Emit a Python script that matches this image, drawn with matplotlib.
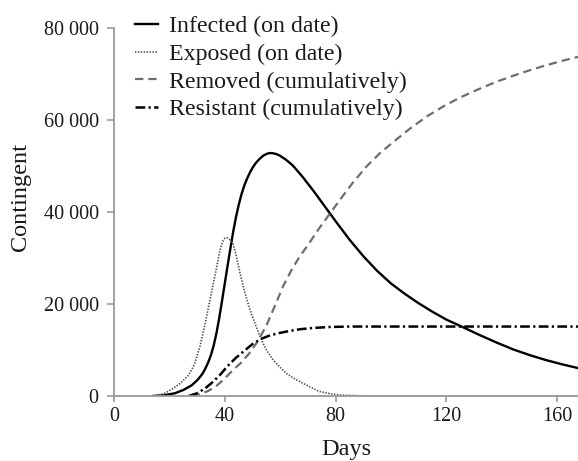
import matplotlib
matplotlib.use("Agg")
import matplotlib.pyplot as plt
from matplotlib.ticker import FuncFormatter

plt.rcParams['font.family'] = ['Liberation Serif', 'DejaVu Serif']
plt.rcParams['lines.scale_dashes'] = False

# ---- data ----
infected_days = [14, 18, 22, 25, 28, 30, 31, 32, 33, 34, 35, 36, 37, 38, 39, 40, 41, 42, 43, 44,
                 45, 46, 47, 48, 49, 50, 51, 52, 53, 54, 55, 56, 57, 58, 59, 60, 61, 62, 63, 64,
                 65, 68, 72, 76, 80, 85, 90, 95, 100, 105, 110, 115, 120, 126, 132, 138, 144,
                 150, 156, 162, 168]
infected_vals = [0, 150, 600, 1300, 2300, 3400, 4100, 4900, 6000, 7300, 8900, 11000, 13700,
                 17000, 20700, 24500, 28300, 32000, 35600, 38800, 41500, 43800, 45700, 47200,
                 48500, 49600, 50500, 51200, 51800, 52300, 52600, 52800, 52800, 52700, 52500,
                 52200, 51800, 51400, 50900, 50400, 49800, 47700, 44600, 41300, 38000, 34000,
                 30400, 27200, 24450, 22200, 20150, 18300, 16600, 14950, 13250, 11650, 10150,
                 8900, 7800, 6850, 6000]

exposed_days = [14, 18, 21, 24, 27, 29, 31, 33, 35, 37, 38, 39, 40, 41, 42, 43, 44, 45.5, 47, 49,
                51, 53, 55, 57.5, 60, 62.5, 65, 67.5, 70, 74, 78, 82, 88, 95, 168]
exposed_vals = [0, 500, 1500, 2800, 4600, 6800, 10700, 16000, 22000, 27800, 31000, 33300, 34300,
                34400, 33900, 33000, 30800, 26700, 23000, 18900, 15600, 12500, 10000, 7800, 6200,
                4800, 3800, 3000, 2200, 1000, 500, 200, 60, 0, 0]

removed_days = [28, 31, 34, 37, 40, 43, 46, 49, 52, 55, 58, 61, 64, 67, 70, 74, 78, 82, 86, 91,
                96, 102, 107, 113, 119, 125, 132, 138, 144, 150, 156, 162, 168]
removed_vals = [0, 400, 1100, 2200, 3800, 5700, 7300, 9400, 12000, 15300, 19500, 23800, 27300,
                30300, 32800, 36400, 39700, 43000, 46200, 49800, 52800, 55800, 58200, 60800,
                63000, 64900, 66800, 68300, 69600, 70800, 71900, 72900, 73800]

resistant_days = [27, 30, 33, 35, 38, 41, 44, 47, 50, 53, 56, 59, 63, 67, 72, 78, 85, 168]
resistant_vals = [0, 600, 1700, 2700, 4400, 6500, 8300, 9800, 11300, 12400, 13100, 13600, 14100,
                  14500, 14800, 15000, 15100, 15100]

labels = ["Infected (on date)", "Exposed (on date)", "Removed (cumulatively)",
          "Resistant (cumulatively)"]
x_ticks = [0, 40, 80, 120, 160]
y_ticks = [0, 20000, 40000, 60000, 80000]

# ---- figure ----
W, H = 578, 461
fig = plt.figure(figsize=(W / 100, H / 100), dpi=100)
ax = fig.add_axes([114 / W, 1 - 396 / H, 1 - 114 / W, 368 / H])

ax.plot(infected_days, infected_vals, color='black', lw=1.7, label=labels[0])
ax.plot(exposed_days, exposed_vals, color='#4a4a4a', lw=1.2, dashes=(1.0, 1.1), label=labels[1])
ax.plot(removed_days, removed_vals, color='#6e6e6e', lw=1.6, dashes=(6, 3.6), label=labels[2])
ax.plot(resistant_days, resistant_vals, color='black', lw=1.8,
        dashes=(7, 2.4, 1.6, 2.4), label=labels[3])

ax.set_xlim(0, 167.5)
ax.set_ylim(0, 80000)
ax.set_xticks(x_ticks)
ax.set_yticks(y_ticks)
ax.yaxis.set_major_formatter(FuncFormatter(lambda v, p: f"{int(v):,}".replace(",", " ")))

for s in ['top', 'right']:
    ax.spines[s].set_visible(False)
for s in ['left', 'bottom']:
    ax.spines[s].set_color('#999999')
    ax.spines[s].set_linewidth(1.3)

ax.tick_params(axis='both', direction='out', color='#999999', width=1.2,
               labelsize=14.5, labelcolor='#1a1a1a')
ax.tick_params(axis='y', length=5, pad=6)
ax.tick_params(axis='x', length=4, pad=4)

ax.set_xlabel("Days", fontsize=17.5, color='#1a1a1a')
ax.set_ylabel("Contingent", fontsize=17.5, color='#1a1a1a')
ax.xaxis.set_label_coords(0.5, -0.117)
ax.yaxis.set_label_coords(-0.179, 0.541)

leg = ax.legend(loc='upper left', bbox_to_anchor=(0.045, 1.034), frameon=False, fontsize=17.2,
                handlelength=0.95, handletextpad=0.47, labelspacing=0.25, borderaxespad=0,
                borderpad=0)
for t in leg.get_texts():
    t.set_color('#1a1a1a')

fig.savefig("out.png", dpi=100)
